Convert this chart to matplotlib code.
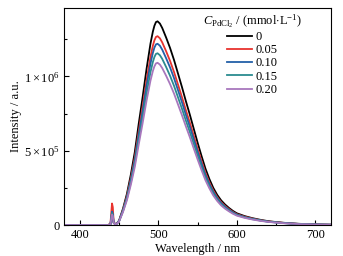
import matplotlib
matplotlib.use('Agg')
import matplotlib.pyplot as plt
from matplotlib.ticker import FixedLocator, MultipleLocator

plt.rcParams['font.family'] = ['Liberation Serif', 'DejaVu Serif']
plt.rcParams['mathtext.fontset'] = 'custom'
plt.rcParams['mathtext.rm'] = 'Liberation Serif'
plt.rcParams['mathtext.it'] = 'Liberation Serif:italic'
plt.rcParams['font.size'] = 9

# wavelength (nm) and intensity (x1e5 a.u.)
wavelength = [380, 436, 439, 441, 442, 443, 445, 447, 450, 455, 460, 465, 470, 475, 480,
              485, 490, 493, 495, 497, 499, 502, 505, 510, 515, 520, 525, 530, 535, 540,
              545, 550, 555, 560, 565, 570, 575, 580, 585, 590, 595, 600, 610, 620, 630,
              640, 650, 660, 670, 680, 690, 700, 720]
c_000 = [0, 0, 0.05, 0.6, 0.5, 0.15, 0.05, 0.1, 0.3, 1.1, 2.1, 3.4, 4.9, 6.8, 8.6,
         10.5, 12.2, 13.0, 13.4, 13.65, 13.7, 13.55, 13.25, 12.6, 11.9, 11.1, 10.2, 9.3, 8.35, 7.45,
         6.5, 5.55, 4.65, 3.8, 3.1, 2.5, 2.03, 1.66, 1.38, 1.15, 0.95, 0.79, 0.6, 0.46, 0.35,
         0.26, 0.2, 0.15, 0.11, 0.08, 0.06, 0.04, 0.02]
c_005 = [0, 0, 0.1, 1.45, 1.2, 0.3, 0.05, 0.09, 0.28, 1.02, 1.95, 3.15, 4.54, 6.3, 7.97,
         9.73, 11.31, 12.05, 12.42, 12.65, 12.7, 12.56, 12.28, 11.68, 11.03, 10.29, 9.46, 8.62, 7.74, 6.91,
         6.03, 5.14, 4.31, 3.52, 2.87, 2.32, 1.88, 1.54, 1.28, 1.07, 0.88, 0.73, 0.56, 0.43, 0.32,
         0.24, 0.19, 0.14, 0.1, 0.07, 0.06, 0.04, 0.02]
c_010 = [0, 0, 0.05, 0.9, 0.75, 0.2, 0.05, 0.09, 0.27, 0.98, 1.87, 3.03, 4.36, 6.05, 7.65,
         9.35, 10.86, 11.57, 11.93, 12.15, 12.19, 12.06, 11.79, 11.21, 10.59, 9.88, 9.08, 8.28, 7.43, 6.63,
         5.79, 4.94, 4.14, 3.38, 2.76, 2.23, 1.81, 1.48, 1.23, 1.02, 0.85, 0.7, 0.53, 0.41, 0.31,
         0.23, 0.18, 0.13, 0.1, 0.07, 0.05, 0.04, 0.02]
c_015 = [0, 0, 0.05, 0.8, 0.65, 0.2, 0.05, 0.08, 0.25, 0.93, 1.77, 2.87, 4.13, 5.73, 7.25,
         8.85, 10.28, 10.96, 11.3, 11.51, 11.55, 11.42, 11.17, 10.62, 10.03, 9.36, 8.6, 7.84, 7.04, 6.28,
         5.48, 4.68, 3.92, 3.2, 2.61, 2.11, 1.71, 1.4, 1.16, 0.97, 0.8, 0.67, 0.51, 0.39, 0.3,
         0.22, 0.17, 0.13, 0.09, 0.07, 0.05, 0.03, 0.02]
c_020 = [0, 0, 0.05, 0.7, 0.6, 0.15, 0.05, 0.08, 0.24, 0.88, 1.67, 2.71, 3.9, 5.41, 6.85,
         8.36, 9.71, 10.35, 10.67, 10.87, 10.91, 10.79, 10.55, 10.03, 9.47, 8.84, 8.12, 7.4, 6.65, 5.93,
         5.17, 4.42, 3.7, 3.02, 2.47, 1.99, 1.62, 1.32, 1.1, 0.92, 0.76, 0.63, 0.48, 0.37, 0.28,
         0.21, 0.16, 0.12, 0.09, 0.06, 0.05, 0.03, 0.02]

labels = ['0', '0.05', '0.10', '0.15', '0.20']
colors = ['#000000', '#e8332e', '#2360a8', '#2b8b90', '#a877bd']
series = [c_000, c_005, c_010, c_015, c_020]

fig = plt.figure(figsize=(3.43, 2.56), dpi=100)
ax = fig.add_axes([0.187, 0.121, 0.778, 0.848])

for ys, lab, col in zip(series, labels, colors):
    ax.plot(wavelength, [v * 1e5 for v in ys], color=col, lw=1.3, label=lab)

ax.set_xlim(380, 720)
ax.set_ylim(0, 1.46e6)
ax.xaxis.set_major_locator(FixedLocator([400, 500, 600, 700]))
ax.xaxis.set_minor_locator(MultipleLocator(50))
ax.yaxis.set_major_locator(FixedLocator([0, 5e5, 1e6]))
ax.yaxis.set_minor_locator(MultipleLocator(2.5e5))
ax.set_yticklabels(['0', r'$5\times10^{5}$', r'$1\times10^{6}$'])
ax.tick_params(which='both', direction='in', top=False, right=False, labelsize=9, pad=3)
ax.tick_params(which='major', length=3.5, width=0.8)
ax.tick_params(which='minor', length=2, width=0.8)
for s in ax.spines.values():
    s.set_linewidth(0.8)

ax.set_xlabel('Wavelength / nm', fontsize=9, labelpad=1)
ax.set_ylabel('Intensity / a.u.', fontsize=9, labelpad=2)

leg = ax.legend(title=r'$C_{\mathrm{PdCl_2}}$ / (mmol$\cdot$L$^{-1}$)', loc='upper right',
                frameon=False, fontsize=9, title_fontsize=9, handlelength=2.0,
                handletextpad=0.3, labelspacing=0.1, borderaxespad=0.0,
                bbox_to_anchor=(0.91, 1.004))

fig.savefig('out.png', dpi=100)
